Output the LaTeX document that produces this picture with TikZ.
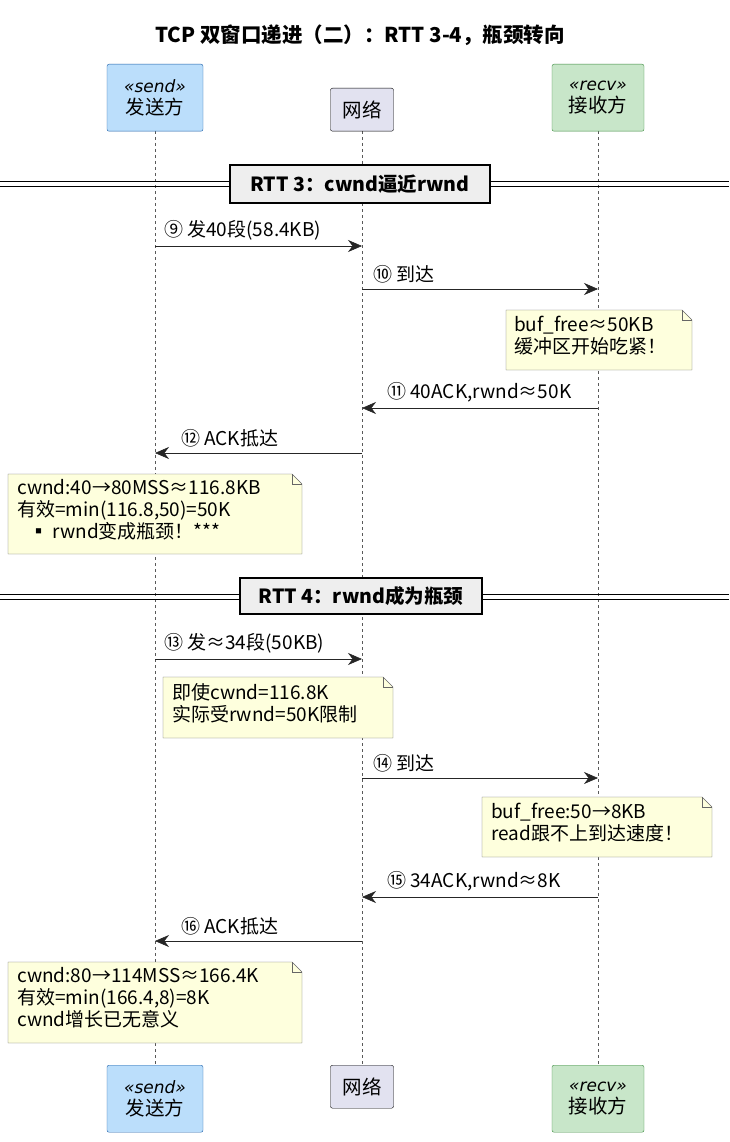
\documentclass[tikz,border=0pt]{standalone}
\usepackage{fontspec}
\setmainfont{Noto Sans CJK SC}
\newfontfamily\stereo{DejaVu Sans}
\usetikzlibrary{arrows.meta, calc}
\definecolor{sendfill}{HTML}{BBDEFB}
\definecolor{senddraw}{HTML}{1E5FA8}
\definecolor{recvfill}{HTML}{C8E6C9}
\definecolor{recvdraw}{HTML}{3D8B40}
\definecolor{netfill}{HTML}{E2E2F0}
\definecolor{notefill}{HTML}{FEFFDD}
\definecolor{divfill}{HTML}{EEEEEE}
\tikzset{
  part/.style={draw, rounded corners=2pt, align=center, inner sep=0pt, font=\fontsize{19.5}{22}\selectfont},
  life/.style={dashed, gray!70!black, thin},
  msg/.style={-{Stealth[length=14pt,width=12pt]}, semithick, draw=black!85},
  lbl/.style={font=\fontsize{19}{21}\selectfont, anchor=south west, inner sep=1pt},
  note/.style={anchor=north west, align=left, inner sep=0pt, font=\fontsize{19}{22}\selectfont},
  divider/.style={draw, very thick, fill=divfill, font=\bfseries\fontsize{19.5}{21}\selectfont, inner sep=0pt}
}
\newcommand{\notepaper}[3]{% name, width, height
  \path[fill=notefill, draw=black!60, thin] (#1) -- ++(#2-10,0) -- ++(10,10) -- ++(0,#3-10) -- ++(-#2,0) -- cycle;
  \draw[black!60, thin] ($(#1)+(#2-10,0)$) -- ++(0,10) -- ++(10,0);}
\begin{document}
\begin{tikzpicture}[x=1pt, y=-1pt]
  \useasboundingbox (0,0) rectangle (729,1142);

  \node[font=\bfseries\fontsize{20.5}{23}\selectfont] (title) at (360,35) {TCP 双窗口递进（二）：RTT 3-4，瓶颈转向};

  % lifelines
  \draw[life] (155,131) -- (155,1065);
  \draw[life] (362,131) -- (362,1065);
  \draw[life] (598,131) -- (598,1065);

  % participants
  \foreach \y/\n in {64/top, 1065/bot} {
    \node[part, fill=sendfill, draw=senddraw, minimum width=96pt, minimum height=67pt, anchor=north]
      (send\n) at (155,\y) {{\stereo\itshape\fontsize{17}{20}\selectfont «send»}\\发送方};
    \node[part, fill=recvfill, draw=recvdraw, minimum width=92pt, minimum height=67pt, anchor=north]
      (recv\n) at (598,\y) {{\stereo\itshape\fontsize{17}{20}\selectfont «recv»}\\接收方};
  }
  \node[part, fill=netfill, minimum width=63pt, minimum height=43pt, anchor=north] (nettop) at (362,88) {网络};
  \node[part, fill=netfill, minimum width=63pt, minimum height=43pt, anchor=north] (netbot) at (362,1065) {网络};

  % RTT 3
  \draw (0,181) -- (729,181) (0,186) -- (729,186);
  \node[divider, minimum width=260pt, minimum height=38pt] (rtt3) at (360,184) {RTT 3：cwnd逼近rwnd};

  \coordinate (s9) at (155,246); \coordinate (n9) at (362,246);
  \draw[msg] (s9) -- (n9);
  \node[lbl] (l9) at (163,241) {⑨ 发40段(58.4KB)};

  \coordinate (n10) at (362,289); \coordinate (r10) at (598,289);
  \draw[msg] (n10) -- (r10);
  \node[lbl] (l10) at (372,284) {⑩ 到达};

  \coordinate (note1) at (506,310);
  \notepaper{note1}{186}{60}
  \node[note] (t1) at (514,316) {buf\_free≈50KB\\缓冲区开始吃紧！};

  \coordinate (r11) at (598,408); \coordinate (n11) at (362,408);
  \draw[msg] (r11) -- (n11);
  \node[lbl] (l11) at (386,403) {⑪ 40ACK,rwnd≈50K};

  \coordinate (n12) at (362,453); \coordinate (s12) at (155,453);
  \draw[msg] (n12) -- (s12);
  \node[lbl] (l12) at (180,448) {⑫ ACK抵达};

  \coordinate (note2) at (8,474);
  \notepaper{note2}{294}{80}
  \node[note] (t2) at (17,479) {cwnd:40→80MSS≈116.8KB\\有效=min(116.8,50)=50K\\\hspace*{12pt}▪ rwnd变成瓶颈！***};

  % RTT 4
  \draw (0,594) -- (729,594) (0,599) -- (729,599);
  \node[divider, minimum width=242pt, minimum height=36pt] (rtt4) at (361,596) {RTT 4：rwnd成为瓶颈};

  \coordinate (s13) at (155,659); \coordinate (n13) at (362,659);
  \draw[msg] (s13) -- (n13);
  \node[lbl] (l13) at (163,654) {⑬ 发≈34段(50KB)};

  \coordinate (note3) at (163,677);
  \notepaper{note3}{230}{61}
  \node[note] (t3) at (172,683) {即使cwnd=116.8K\\实际受rwnd=50K限制};

  \coordinate (n14) at (362,778); \coordinate (r14) at (598,778);
  \draw[msg] (n14) -- (r14);
  \node[lbl] (l14) at (372,773) {⑭ 到达};

  \coordinate (note4) at (482,797);
  \notepaper{note4}{230}{60}
  \node[note] (t4) at (491,803) {buf\_free:50→8KB\\read跟不上到达速度！};

  \coordinate (r15) at (598,897); \coordinate (n15) at (362,897);
  \draw[msg] (r15) -- (n15);
  \node[lbl] (l15) at (386,892) {⑮ 34ACK,rwnd≈8K};

  \coordinate (n16) at (362,941); \coordinate (s16) at (155,941);
  \draw[msg] (n16) -- (s16);
  \node[lbl] (l16) at (180,936) {⑯ ACK抵达};

  \coordinate (note5) at (8,962);
  \notepaper{note5}{294}{81}
  \node[note] (t5) at (17,967) {cwnd:80→114MSS≈166.4K\\有效=min(166.4,8)=8K\\cwnd增长已无意义};
\end{tikzpicture}
\end{document}
